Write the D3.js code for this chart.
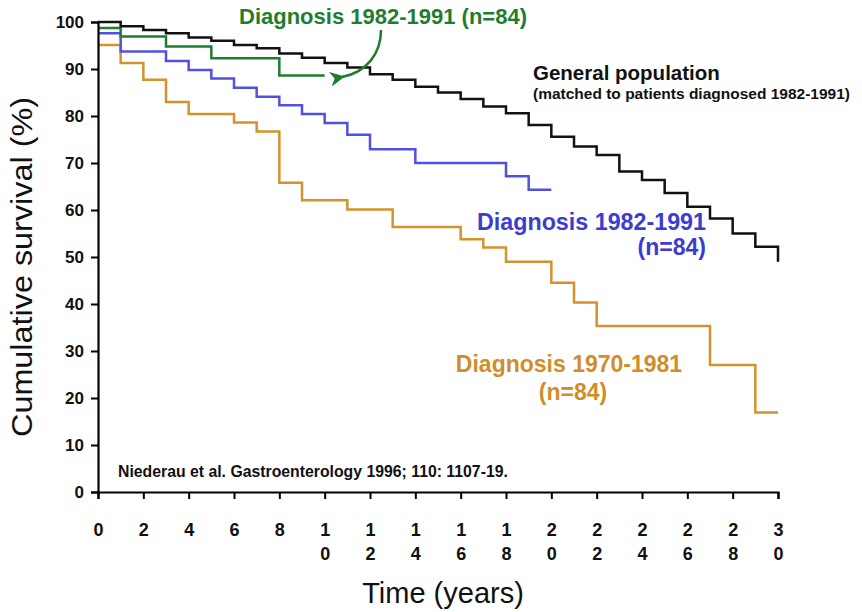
<!DOCTYPE html>
<html>
<head>
<meta charset="utf-8">
<script src="https://cdn.jsdelivr.net/npm/d3@7"></script>
<style>
  html, body { margin: 0; padding: 0; background: #fff; }
  svg { display: block; font-family: "Liberation Sans", Arial, sans-serif; }
</style>
</head>
<body>
<svg id="chart" width="862" height="612"></svg>
<script>
// ---- data ----
const generalTimes = d3.range(0, 31);
const generalSurvival = [100, 99.1, 98.3, 97.6, 96.7, 96.0, 95.1, 94.4, 93.3, 92.4, 91.3, 90.3, 88.9, 87.7, 86.2, 85.0,
  83.6, 82.0, 80.6, 78.1, 75.6, 73.5, 71.7, 68.2, 66.4, 63.6, 60.7, 58.2, 55.0, 52.2, 49.0];

const greenTimes = [0, 1, 3, 5, 8, 10];
const greenSurvival = [98.7, 96.9, 94.8, 92.3, 88.6, 88.6];

const blueTimes = [0, 1, 3, 4, 5, 6, 7, 8, 9, 10, 11, 12, 14, 18, 19, 20];
const blueSurvival = [97.6, 93.7, 91.7, 89.8, 88.0, 86.0, 84.1, 82.3, 80.4, 78.5, 76.0, 72.9, 70.0, 67.2, 64.3, 64.3];

const orangeTimes = [0, 1, 2, 3, 4, 6, 7, 8, 9, 11, 13, 16, 17, 18, 20, 21, 22, 27, 29, 30];
const orangeSurvival = [95.1, 91.3, 87.7, 83.0, 80.4, 78.6, 76.7, 65.8, 62.1, 60.1, 56.4, 53.8, 52.0, 49.0, 44.5, 40.3, 35.3, 27.0, 16.9, 16.9];

const xTickValues = d3.range(0, 31, 2);
const xTickLabels = ["0","2","4","6","8","10","12","14","16","18","20","22","24","26","28","30"];
const yTickValues = d3.range(0, 101, 10);
const yTickLabels = ["0","10","20","30","40","50","60","70","80","90","100"];

// ---- drawing ----
const svg = d3.select("#chart");
const x = d3.scaleLinear().domain([0, 30]).range([98, 778]);
const y = d3.scaleLinear().domain([0, 100]).range([492, 22]);

const stepLine = d3.line()
  .x(d => x(d[0]))
  .y(d => y(d[1]))
  .curve(d3.curveStepAfter);

function drawSeries(times, vals, color) {
  svg.append("path")
    .datum(times.map((t, i) => [t, vals[i]]))
    .attr("d", stepLine)
    .attr("fill", "none")
    .attr("stroke", color)
    .attr("stroke-width", 2.5)
    .attr("stroke-linejoin", "miter");
}

drawSeries(orangeTimes, orangeSurvival, "#d4922c");
drawSeries(blueTimes, blueSurvival, "#5050e6");
drawSeries(greenTimes, greenSurvival, "#1f7d2f");
drawSeries(generalTimes, generalSurvival, "#111111");

// y axis
const yAxis = svg.append("g")
  .attr("transform", `translate(${x(0)},0)`)
  .call(d3.axisLeft(y).tickValues(yTickValues).tickSize(7).tickPadding(7)
    .tickFormat((d, i) => yTickLabels[i]));
yAxis.select(".domain").attr("stroke", "#000").attr("stroke-width", 2.2);
yAxis.selectAll(".tick line").attr("stroke", "#000").attr("stroke-width", 2);
yAxis.selectAll(".tick text")
  .attr("font-size", 17).attr("font-weight", "bold").attr("fill", "#111")
  .attr("font-family", "'Liberation Sans', Arial, sans-serif");

// x axis
const xAxis = svg.append("g")
  .attr("transform", `translate(0,${y(0)})`)
  .call(d3.axisBottom(x).tickValues(xTickValues).tickSize(7).tickFormat(""));
xAxis.select(".domain").attr("stroke", "#000").attr("stroke-width", 2.2);
xAxis.selectAll(".tick line").attr("stroke", "#000").attr("stroke-width", 2);
xAxis.selectAll(".tick").each(function(d, i) {
  const chars = xTickLabels[i].split("");
  const t = d3.select(this).append("text")
    .attr("fill", "#111").attr("font-size", 18).attr("font-weight", "bold")
    .attr("text-anchor", "middle");
  chars.forEach((c, k) => {
    t.append("tspan").attr("x", 0).attr("y", k === 0 ? 44 : 68).text(c);
  });
});

// axis titles
svg.append("text")
  .attr("x", 443).attr("y", 603)
  .attr("text-anchor", "middle")
  .attr("font-size", 29).attr("fill", "#111")
  .text("Time (years)");

svg.append("text")
  .attr("transform", "translate(32,267) rotate(-90)")
  .attr("text-anchor", "middle")
  .attr("font-size", 29).attr("fill", "#111")
  .attr("textLength", 340).attr("lengthAdjust", "spacingAndGlyphs")
  .text("Cumulative survival (%)");

// annotations
svg.append("text")
  .attr("x", 239).attr("y", 24)
  .attr("font-size", 22).attr("font-weight", "bold").attr("fill", "#1f7d2f")
  .text("Diagnosis 1982-1991 (n=84)");

svg.append("defs").append("marker")
  .attr("id", "arrowG")
  .attr("viewBox", "0 0 10 10")
  .attr("refX", 2).attr("refY", 5)
  .attr("markerWidth", 6).attr("markerHeight", 6)
  .attr("markerUnits", "strokeWidth")
  .attr("orient", "auto")
  .append("path").attr("d", "M0,5 L10,0 L7,5 L10,10 Z").attr("fill", "#1f7d2f");

svg.append("path")
  .attr("d", "M381,30 C381,52 368,72 342,77")
  .attr("fill", "none").attr("stroke", "#1f7d2f").attr("stroke-width", 2.5)
  .attr("marker-end", "url(#arrowG)");

svg.append("text")
  .attr("x", 533).attr("y", 80)
  .attr("font-size", 20.5).attr("font-weight", "bold").attr("fill", "#111")
  .text("General population");
svg.append("text")
  .attr("x", 533).attr("y", 99)
  .attr("font-size", 15.5).attr("font-weight", "bold").attr("fill", "#111")
  .text("(matched to patients diagnosed 1982-1991)");

svg.append("text")
  .attr("x", 706).attr("y", 230)
  .attr("text-anchor", "end")
  .attr("font-size", 23).attr("font-weight", "bold").attr("fill", "#3c3cd2")
  .attr("textLength", 229).attr("lengthAdjust", "spacingAndGlyphs")
  .text("Diagnosis 1982-1991");
svg.append("text")
  .attr("x", 706).attr("y", 255)
  .attr("text-anchor", "end")
  .attr("font-size", 23).attr("font-weight", "bold").attr("fill", "#3c3cd2")
  .text("(n=84)");

svg.append("text")
  .attr("x", 569).attr("y", 372)
  .attr("text-anchor", "middle")
  .attr("font-size", 23).attr("font-weight", "bold").attr("fill", "#d08d2a")
  .text("Diagnosis 1970-1981");
svg.append("text")
  .attr("x", 573).attr("y", 400)
  .attr("text-anchor", "middle")
  .attr("font-size", 23).attr("font-weight", "bold").attr("fill", "#d08d2a")
  .text("(n=84)");

svg.append("text")
  .attr("x", 118).attr("y", 477)
  .attr("font-size", 15.8).attr("font-weight", "bold").attr("fill", "#111")
  .text("Niederau et al. Gastroenterology 1996; 110: 1107-19.");
</script>
</body>
</html>
